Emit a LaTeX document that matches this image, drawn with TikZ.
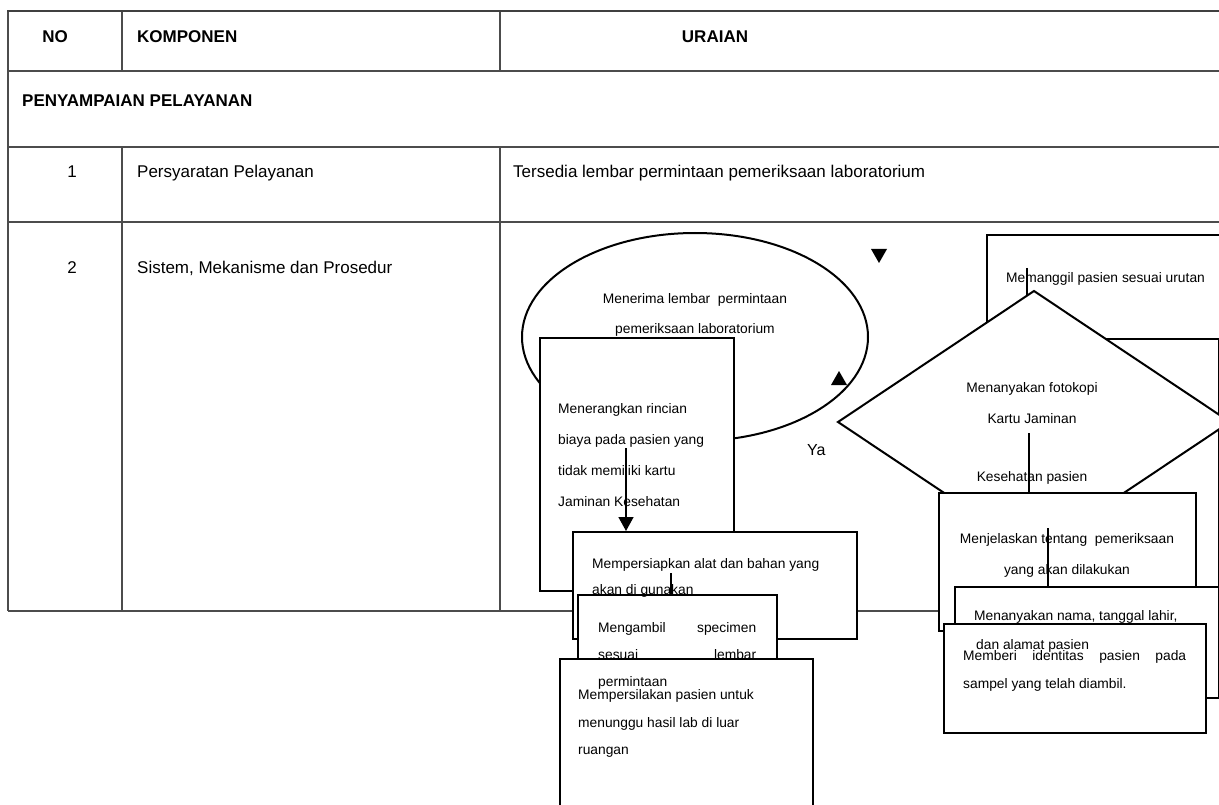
\documentclass[tikz,border=0pt]{standalone}
\usepackage{fontspec}
\setmainfont{Liberation Sans}
\usetikzlibrary{arrows.meta}
\begin{document}
\begin{tikzpicture}[x=1pt,y=-1pt,
  tline/.style={draw=black!70, line width=1.3pt},
  ttop/.style={draw=black!75, line width=2pt},
  tt/.style={font=\fontsize{17}{20}\selectfont, inner sep=0pt, anchor=base west},
  ttc/.style={font=\fontsize{17}{20}\selectfont, inner sep=0pt, anchor=base},
  tb/.style={font=\fontsize{17}{20}\selectfont\bfseries, inner sep=0pt, anchor=base west},
  tbc/.style={font=\fontsize{17}{20}\selectfont\bfseries, inner sep=0pt, anchor=base},
  ft/.style={font=\fontsize{13.8}{16}\selectfont, inner sep=0pt, anchor=base west},
  ftc/.style={font=\fontsize{13.8}{16}\selectfont, inner sep=0pt, anchor=base},
  box/.style={draw=black, fill=white, line width=2pt, rectangle, inner sep=0pt, anchor=north west},
  shp/.style={draw=black, fill=white, line width=2pt, line join=miter},
  conn/.style={draw=black, line width=1.5pt},
  arr/.style={conn, -{Triangle[length=14pt,width=15pt]}},
  head/.style={fill=black}
]
\useasboundingbox (0,0) rectangle (1219,805);
\clip (0,0) rectangle (1219,805);
\fill[white] (0,0) rectangle (1219,805);

% ---------- table ----------
\draw[tline] (8,71) -- (1219,71);
\draw[tline] (8,147) -- (1219,147);
\draw[tline] (8,222) -- (1219,222);
\draw[tline] (8,611) -- (1219,611);
\draw[tline] (8,11) -- (8,611);
\draw[tline] (122,11) -- (122,71);
\draw[tline] (500,11) -- (500,71);
\draw[tline] (122,147) -- (122,611);
\draw[tline] (500,147) -- (500,611);
\draw[ttop] (7,11) -- (1219,11);

\node[tbc] (hno) at (55,43) {NO};
\node[tb] (hkomp) at (137,43) {KOMPONEN};
\node[tbc] (hura) at (715,43) {URAIAN};
\node[tb] (hsec) at (22,107) {PENYAMPAIAN PELAYANAN};
\node[ttc] (n1) at (72,178) {1};
\node[tt] (k1) at (137,178) {Persyaratan Pelayanan};
\node[tt] (u1) at (513,178) {Tersedia lembar permintaan pemeriksaan laboratorium};
\node[ttc] (n2) at (72,274) {2};
\node[tt] (k2) at (137,274) {Sistem, Mekanisme dan Prosedur};

% ---------- flowchart shapes (back to front) ----------
\draw[shp] (695,337) ellipse [x radius=173, y radius=104];
\coordinate (ell) at (695,337);
% loose arrowheads
\fill[head] (839,371) -- (847,385) -- (831,385) -- cycle;
\fill[head] (871,249) -- (887,249) -- (879,263) -- cycle;

\node[box, minimum width=194pt, minimum height=253pt] (rerang) at (539,337) {};
\coordinate (c1s) at (626,448);
\node[box, minimum width=284pt, minimum height=107pt] (rprep) at (572,531) {};
\draw[arr] (c1s) -- (rprep.north west -| c1s);
\coordinate (c2s) at (671,573);
\node[box, minimum width=199pt, minimum height=110pt] (ramb) at (577,594) {};
\draw[conn] (c2s) -- (ramb.north west -| c2s);
\node[box, minimum width=253pt, minimum height=200pt] (rsil) at (559,658) {};

\node[box, minimum width=260pt, minimum height=104pt] (rpang) at (986,234) {};
\node[box, minimum width=232pt, minimum height=262pt] (rhid) at (986,338) {};
\coordinate (dt) at (1034,291);
\coordinate (dr) at (1230,422);
\coordinate (db) at (1034,553);
\coordinate (dl) at (838,422);
\coordinate (c3s) at (1027,268);
\coordinate (c3e) at (1027,296);
\draw[shp] (dt) -- (dr) -- (db) -- (dl) -- cycle;
\draw[conn] (c3s) -- (c3e);
\coordinate (c4s) at (1029,433);
\node[box, minimum width=257pt, minimum height=138pt] (rjel) at (938,492) {};
\draw[conn] (c4s) -- (rjel.north west -| c4s);
\coordinate (c5s) at (1048,528);
\node[box, minimum width=264pt, minimum height=111pt] (rnama) at (954,586) {};
\draw[conn] (c5s) -- (rnama.north west -| c5s);
\node[box, minimum width=262pt, minimum height=109pt] (rberi) at (943,623) {};

% ---------- flowchart texts ----------
\node[ftc] (te1) at (695,304) {Menerima lembar\ \ permintaan};
\node[ftc] (te2) at (695,334) {pemeriksaan laboratorium};

\node[ft] (ta1) at (558,413) {Menerangkan rincian};
\node[ft] (ta2) at (558,444) {biaya pada pasien yang};
\node[ft] (ta3) at (558,475) {tidak memiliki kartu};
\node[ft] (ta4) at (558,506) {Jaminan Kesehatan};

\node[ft] (tp1) at (592,568) {Mempersiapkan alat dan bahan yang};
\node[ft] (tp2) at (592,594) {akan di gunakan};

\node[ft] (tm1) at (598,632) {\makebox[158pt]{Mengambil\hfill specimen}};
\node[ft] (tm2) at (598,659) {\makebox[158pt]{sesuai\hfill lembar}};
\node[ft] (tm3) at (598,686) {permintaan};

\node[ft] (ts1) at (578,699) {Mempersilakan pasien untuk};
\node[ft] (ts2) at (578,727) {menunggu hasil lab di luar};
\node[ft] (ts3) at (578,754) {ruangan};

\node[ft] (tg1) at (1006,283) {Memanggil pasien sesuai urutan};

\node[ftc] (td1) at (1032,392) {Menanyakan fotokopi};
\node[ftc] (td2) at (1032,423) {Kartu Jaminan};
\node[ftc] (td3) at (1032,481) {Kesehatan pasien};

\node[ftc] (tj1) at (1067,543) {Menjelaskan tentang\ \ pemeriksaan};
\node[ftc] (tj2) at (1067,574) {yang akan dilakukan};

\node[ft] (tn1) at (974,620) {Menanyakan nama, tanggal lahir,};
\node[ft] (tn2) at (976,649) {dan alamat pasien};

\node[ft] (tb1) at (963,660) {\makebox[223pt]{Memberi\hfill identitas\hfill pasien\hfill pada}};
\node[ft] (tb2) at (963,688) {sampel yang telah diambil.};

\node[font=\fontsize{16}{19}\selectfont, inner sep=0pt, anchor=base west] (ya) at (807,455) {Ya};
\end{tikzpicture}
\end{document}
